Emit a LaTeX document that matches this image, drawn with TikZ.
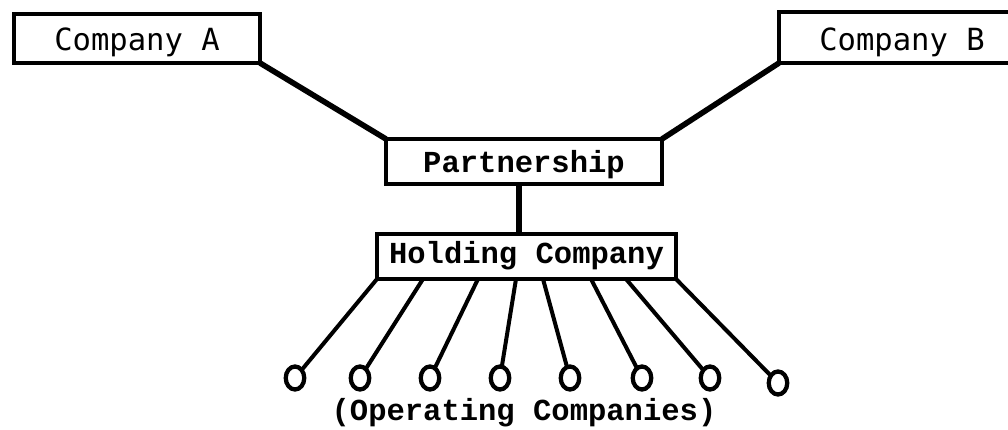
\documentclass[tikz,border=0pt]{standalone}
\usepackage{fontspec}
\setmonofont{Liberation Mono}
\newfontfamily\gothicmono{DejaVu Sans Mono}
\usetikzlibrary{shapes.geometric}
\newdimen\pxu \pxu=0.75pt
\begin{document}
\begin{tikzpicture}[x=0.75pt,y=-0.75pt,
  orgbox/.style={draw, line width=3.3pt, inner sep=0pt, outer sep=0pt, text depth=0pt},
  typed/.style={font=\fontsize{22.9}{26}\selectfont\ttfamily\bfseries},
  gothic/.style={font=\fontsize{22.9}{26}\selectfont\gothicmono},
  link/.style={line width=4.2pt},
  stem/.style={line width=4.8pt},
  spoke/.style={line width=3pt},
  opco/.style={draw, ellipse, line width=3.2pt, inner sep=0pt, outer sep=0pt,
    minimum width=18.5\pxu, minimum height=23\pxu}]
\useasboundingbox (0,0) rectangle (1008,429);
\clip (0,0) rectangle (1008,429);

% owners
\node[orgbox, gothic, minimum width=246\pxu, minimum height=49\pxu, text height=23\pxu]
  (ca) at (137,38.5) {Company A};
\node[orgbox, gothic, minimum width=246\pxu, minimum height=51\pxu, text height=25\pxu]
  (cb) at (902,37.5) {Company B};

% joint vehicles
\node[orgbox, typed, minimum width=276\pxu, minimum height=45\pxu, text height=21\pxu]
  (part) at (524,161.5) {Partnership};
\node[orgbox, typed, minimum width=299\pxu, minimum height=45\pxu, text height=13\pxu]
  (hold) at (526.5,256.5) {Holding Company};

\draw[link] (ca.south east) -- (part.north west);
\draw[link] (cb.south west) -- (part.north east);
\draw[stem] ([xshift=-5\pxu]part.south) -- ([xshift=-5\pxu]part.south |- hold.north);

% operating companies
\node[opco] (o1) at (295,378) {};
\node[opco] (o2) at (360,378) {};
\node[opco] (o3) at (430,378) {};
\node[opco] (o4) at (500,378) {};
\node[opco] (o5) at (570,378) {};
\node[opco] (o6) at (642,378) {};
\node[opco] (o7) at (710,378) {};
\node[opco] (o8) at (778,383) {};

\draw[spoke] (hold.south west) -- (o1);
\draw[spoke] ([xshift=46\pxu]hold.south west) -- (o2);
\draw[spoke] ([xshift=101\pxu]hold.south west) -- (o3);
\draw[spoke] ([xshift=139\pxu]hold.south west) -- (o4);
\draw[spoke] ([xshift=166\pxu]hold.south west) -- (o5);
\draw[spoke] ([xshift=214\pxu]hold.south west) -- (o6);
\draw[spoke] ([xshift=249\pxu]hold.south west) -- (o7);
\draw[spoke] (hold.south east) -- (o8);

\node[typed, anchor=base, inner sep=0pt] (oplabel) at (524,420) {(Operating Companies)};
\end{tikzpicture}
\end{document}
